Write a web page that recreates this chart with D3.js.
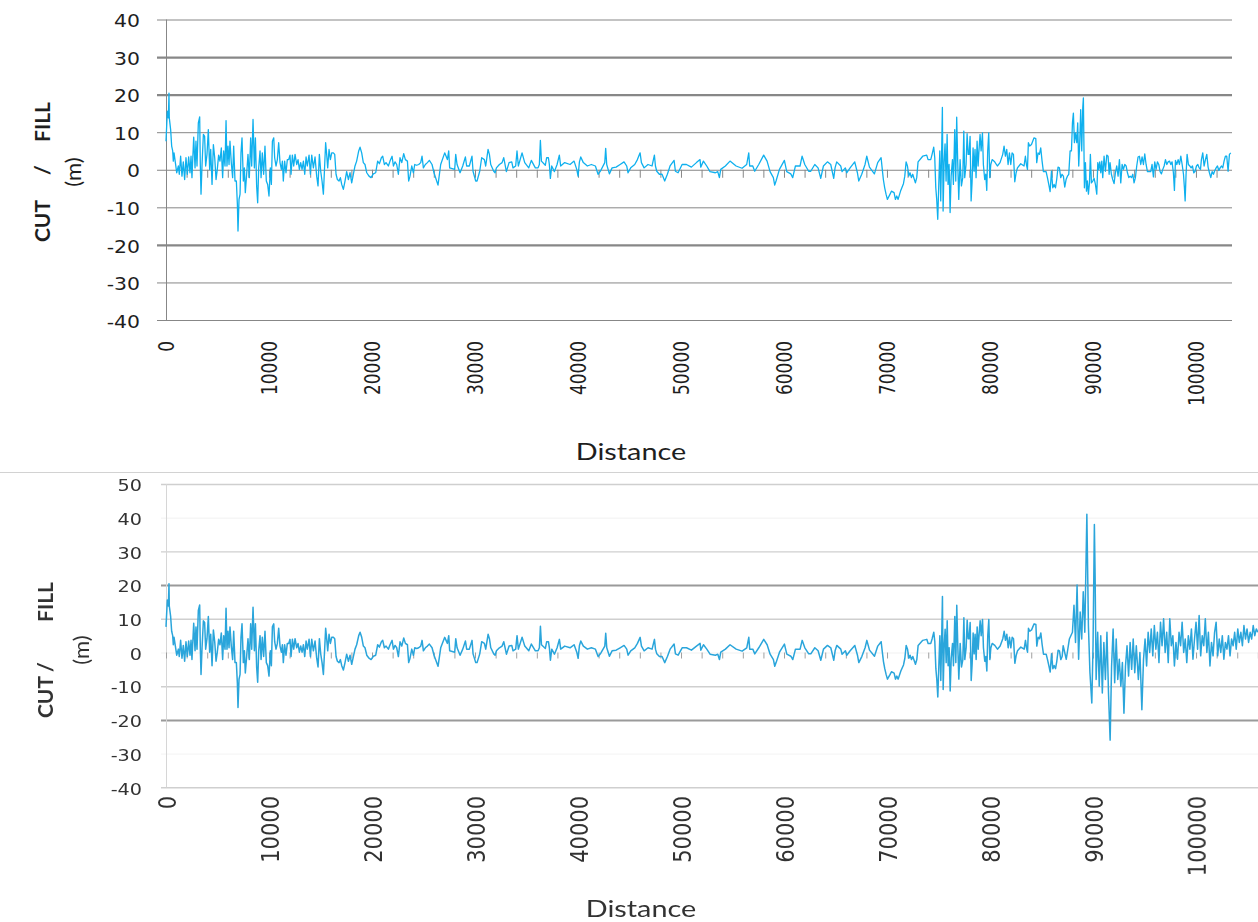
<!DOCTYPE html>
<html>
<head>
<meta charset="utf-8">
<script src="https://cdn.jsdelivr.net/npm/d3@7"></script>
<style>
  html, body { margin: 0; padding: 0; background: #fff; overflow: hidden; }
  svg { display: block; }
</style>
</head>
<body>
<svg id="chart" width="1258" height="922"></svg>
<script>
// cut/fill profile (distance in m, value in m)
const topDist = [
  0,130,230,290,320,450,550,650,710,780,
  910,1040,1200,1290,1420,1550,1680,1810,1940,2070,
  2200,2330,2430,2520,2690,2820,2910,3010,3140,3270,
  3330,3400,3500,3630,3750,3850,3980,4110,4240,4340,
  4470,4600,4730,4860,4980,5110,5240,5370,5500,5600,
  5730,5830,5920,6020,6120,6210,6340,6470,6570,6700,
  6830,6930,6990,7090,7190,7280,7380,7510,7610,7700,
  7830,7960,8090,8220,8320,8450,8580,8680,8800,8900,
  9000,9130,9230,9350,9480,9610,9740,9870,10000,10130,
  10230,10330,10460,10550,10680,10810,10940,11070,11200,11300,
  11390,11520,11650,11780,11910,12040,12140,12270,12400,12530,
  12690,12820,12950,13080,13210,13340,13470,13600,13720,13890,
  14020,14150,14310,14470,14630,14760,14890,15020,15150,15280,
  15410,15500,15600,15700,15830,15960,16090,16250,16380,16510,
  16640,16800,16930,17060,17220,17380,17540,17710,17870,18030,
  18190,18350,18510,18710,18840,19000,19160,19320,19490,19710,
  19910,20130,20360,20550,20720,20910,21040,21200,21360,21590,
  21750,21950,22080,22240,22400,22560,22720,22890,23080,23240,
  23440,23560,23690,23860,24020,24150,24340,24540,24730,24860,
  24990,25180,25380,25570,25830,
  26020,26410,26670,27060,27320,27450,27540,28030,28130,28260,
  28550,28810,29070,29190,29450,29710,29810,30070,30200,30460,
  30650,30910,31040,31270,31400,31530,31820,31950,32080,32370,
  32630,32790,33050,33310,33570,33690,33950,34080,34210,34570,
  34830,35220,35470,35860,36120,36250,36350,36450,36830,36960,
  37130,37220,37320,37450,37710,37970,38190,38320,38710,39230,
  39620,39880,40010,40140,40270,40520,40910,41300,41690,41950,
  42210,42600,42690,42790,43050,43310,43700,44090,44470,44730,
  44860,45120,45510,45770,46030,46160,46420,46800,47190,47420,
  47520,47650,47900,48160,48420,48680,48940,49330,49460,49720,
  50110,50530,51010,51500,51850,
  51920,52180,52500,52820,53340,53570,53730,53860,54310,54760,
  55350,55930,56380,56580,56670,56970,57160,57550,58030,58360,
  58650,58970,59100,59230,59560,60040,60270,60660,60850,61110,
  61560,61760,62020,62400,62600,62990,63310,63570,63830,64220,
  64540,64830,64960,65120,65510,65640,65960,66090,66420,66870,
  67130,67260,67550,67870,68040,68300,68780,69100,69430,69530,
  69650,69780,69910,70040,70300,70430,70690,70820,70950,71080,
  71340,71600,71730,71860,71990,72120,72240,72370,72500,72760,
  72890,73020,73470,73860,73990,74250,74380,74540,74640,74740,
  74830,74930,75030,75130,75220,75320,75380,75450,75550,75640,
  75740,75840,75930,76030,76130,76230,76360,76450,76580,76680,
  76770,76870,76970,77100,77230,77360,77460,77550,77680,77780,
  77880,
  77970,78070,78170,78260,78360,78460,78550,78650,78750,78850,
  78940,79040,79140,79270,79360,79490,79590,79690,79780,79880,
  79980,80080,80210,80460,80720,80980,81240,81370,81500,81630,
  81760,81890,82020,82150,82280,82410,82540,82670,82990,83310,
  83440,83540,83640,83730,83860,84030,84150,84280,84450,84540,
  84670,84800,84930,85060,85190,85450,85580,85710,85840,85970,
  86100,86230,86360,86480,86610,86740,86870,87000,87130,87260,
  87390,87520,87650,87780,87910,88010,88100,88200,88300,88430,
  88520,88620,88720,88810,88910,89010,89070,89170,89270,89370,
  89460,89560,89660,89750,89850,89980,90110,90240,90370,90470,
  90560,90660,90760,90860,90950,91080,91210,91340,91470,91570,
  91660,91790,91920,92050,92180,92310,92440,92570,92700,92830,
  92960,93090,93220,93350,93480,93610,93740,93870,93990,94120,
  94250,94380,94510,94640,94770,94900,95030,95160,95290,95610,
  95740,95870,96000,96130,96260,96390,96520,96650,96780,96910,
  97040,97170,97300,97430,97560,97680,97810,97910,98010,98140,
  98270,98400,98530,98660,98790,98880,98950,99040,99140,99270,
  99400,99530,99660,99790,99920,100050,100180,100310,100440,100530,
  100660,100790,100920,101050,101180,101310,101440,101570,101700,101830,
  101960,102090,102220,102350,102470,102600,102730,102860,102990,103120,
  103250,103380
];
const topCut = [
  7.6,15.6,13.8,20.4,13.8,10.7,6.3,5,2.3,4.5,
  1.9,-0.8,1,-1.2,3.6,-1.7,2.1,-2.6,3.2,-1.2,
  3.4,-0.8,3.6,-2.1,8.7,0.5,7.6,1,12.5,14.1,
  1.4,-6.5,1.4,9.4,8.9,1,4.1,10.7,0.1,5.4,
  -3.9,6.7,3.2,-2.6,0.1,3.9,2.3,5.8,-2.1,5,
  1,13.1,1,6.3,1.4,7.6,1.9,-2.1,6.3,-3,
  -3,-9.2,-16.3,-7.9,-6.5,4.5,8.5,-3,0.5,-6.1,
  -1.2,4.1,-2.1,8.5,1,13.4,0.5,8.5,-4.3,-8.8,
  0.5,5,-2.1,4.5,-1.2,6.3,-3,-3.9,-7,0.5,
  -3.9,7.6,8.5,3.2,1,2.7,7.2,1.9,0.1,2.3,
  -3,2.3,-0.8,2.7,2.7,3.9,-1.2,3.9,1,4.1,
  1.4,2.7,0.1,1.9,0.1,2.3,-1.2,3.4,1,3.9,
  -1.2,3.9,0.5,3.4,-1.7,-4.3,4.1,-0.4,-3,-6.5,
  1.4,7.2,4.1,0.5,5.4,2.7,4.5,4.5,4.1,-1.2,
  -2.6,-3,-2.1,-3.9,-5.2,-3,-0.5,-2.6,-0.8,-3.5,
  -1.2,1,2.3,5,6,4.5,1.9,1.4,-0.8,-1.7,
  -2.1,-1.1,-0.8,2.3,1.6,3.2,3.6,1.4,1.9,1,
  2.3,3.6,1,2.1,1.4,-1.2,3.2,1.9,4.3,2.7,
  2.3,-3,-1.7,1,-0.8,1.4,1.2,1.4,1.9,3.6,
  0.5,1.4,1.9,2.5,1.4,
  -0.8,-4.1,1.4,4.5,2.7,5,0.5,0.1,4.1,1.4,
  -0.8,1,3.4,1,1,3.6,-0.4,-3,-3,-0.4,
  3.2,2.7,1,5.4,4.1,1.4,-0.4,-0.8,0.5,1.4,
  1.9,3.2,-0.5,1.9,2.1,0.5,1,5,1,4.5,
  1.9,0.5,2.5,0.5,0.5,1.4,7.8,2.3,1.2,3.2,
  3.2,1.4,-2.3,1,-0.5,1.4,3.9,1,1.9,1.4,
  2.3,0.1,-1.7,2.1,3.4,1.9,1,1.4,1,-1.2,
  -0.2,1.9,5.7,1.4,-1.1,0.5,0.7,1.4,2.1,1,
  -0.8,0.5,1.4,2.7,4.5,1.9,0.5,1.4,1,3.9,
  1,-0.4,-1.2,-1.2,-3,-1.2,1,2.5,-0.4,-0.8,
  1.4,1.4,0.7,1.9,2.7,
  0.7,2.3,1,-0.5,-0.8,-0.5,-2.1,0.1,1,2.3,
  1,0.4,1.4,4.5,1,1,-0.4,1.4,3.9,2.3,
  -0.5,-2.1,-4.1,-3,0.1,2.5,-0.5,-1.1,-2.1,1,
  1,3.6,1.4,-0.4,-0.4,1.4,0.5,-2.3,1,2.1,
  1.4,-2.3,0.5,2.1,1,-0.5,0.5,-0.8,0.5,2.1,
  -0.8,-3,-1.2,1.4,3.6,0.7,-1.1,1.9,3.2,0.5,
  -2.6,-4.8,-6.5,-7.9,-6.5,-5.7,-6.1,-7.9,-7,-7.9,
  -5.5,-3.7,-1.7,2.1,1,-1.7,-0.8,-2.1,-1.2,-3.5,
  -2.1,2.1,3.6,3.9,2.7,2.7,4.1,6,3.2,-4.8,
  -7.9,-13.2,-3.9,5,-8.3,6.7,16.6,-11,2.1,6.9,
  -3,9.4,-3.9,1.4,-11.4,-1.7,2.7,-3.9,10.7,-3,
  14,2.1,-7.9,2.7,-4.3,-2.1,10.3,-2.1,1.4,9.6,
  4.1,
  4.1,8.9,-8.3,-3.5,5.8,-0.4,5.4,-2.1,7.6,1,
  5.4,9.4,5,9.8,1.4,-2.6,-1.2,-5.5,5,9.8,
  -2.1,1.4,2.7,2.1,1,1.9,4.1,6.3,3.6,5.4,
  1.4,4.5,1.4,4.5,4.1,-3.2,-0.8,0.5,1.6,1,
  3.6,1.4,0.1,7.2,6.3,6.7,7.6,8.5,8.3,1.9,
  4.5,4.1,5.8,2.3,-0.5,-0.5,-2.1,-3.9,-5.8,-0.4,
  -4.8,-3.9,-4.8,-2.6,0.7,0.5,-2.1,-1.2,-1.7,-4.6,
  -2.6,-1.7,-1.2,5,5,12.5,15.1,7.2,9.8,7.2,
  12.5,1,7.6,16,5,16.5,19.1,-4.8,1.9,-5.7,
  -3,-6.5,-3.5,4.1,-3.5,-3,-2.3,-3.9,-6.5,1.9,
  0.1,2.1,-0.8,2.3,-2.1,3.6,-0.4,3.9,3.6,-1.2,
  1.9,-1.2,-2.6,-3.7,-0.8,1,-1.7,2.7,-3.5,1.4,
  0.1,1.4,1,-0.8,-2.1,-1.7,-2.1,-1.2,-3.5,-2.1,
  1,3.4,3.6,1.4,3.4,1.4,4.2,1.4,-0.5,-0.5,
  1.4,-1.9,2.1,0.1,2.1,1.4,-0.5,-1.1,0.1,1,
  2.7,1.4,2.1,2.3,1.4,2.1,-0.8,-5.5,2.5,1.4,
  2.7,1.4,3.6,1.4,-1.2,-4.8,-8.3,-1.2,4.1,1.4,
  1,0.5,1,-0.8,-0.4,1,1.4,0.5,0.1,2.7,
  4.5,1,2.7,4.1,0.7,-0.8,-2.1,-0.5,-1.2,-0.2,
  0.5,1,-0.2,0.5,1,0.5,2.3,3.6,3.6,-0.4,
  4.1,4.5
];

// lower chart: same profile up to ~87 km, then its own tail
const sharedUntil = 87000;
const bottomTailDist = [
  87100,87400,87700,88000,88150,88300,88450,88600,88750,88900,
  89050,89200,89400,89550,89700,89880,90000,90130,90200,90300,
  90450,90600,90750,90900,91050,91200,91350,91500,91660,91800,
  91950,92100,92250,92400,92550,92700,92850,93000,93150,93300,
  93450,93600,93750,93900,94050,94200,94400,94550,94740,94900,
  95050,95200,95350,95500,95650,95800,95950,96100,96250,96400,
  96550,96700,96850,97000,97150,97300,97450,97600,97750,97900,
  98050,98200,98350,98500,98650,98800,98950,99100,99250,99400,
  99550,99700,99850,100000,100150,100300,100450,100600,100750,100900,
  101050,101200,101350,101500,101650,101800,101950,102100,102250,102400,
  102550,102700,102850,103000,103150,103300,103450,103600,103750,103900,
  104050,104200,104350,104500,104650,104800,104950,105100,105250,105400,
  105550,105700,105850,106000
];
const bottomTailCut = [
  2,-2,4,6,14,3,20,-2,12,4,
  18,6,41,8,-6,-15,2,38,23,-8,
  6,-10,5,-12,3,-8,6,-12,-26,-4,
  7,-9,4,-8,-2,-10,-3,-18,-4,2,
  -7,3,-5,4,-6,2,-8,0,-17,-2,
  4,-4,6,0,7,-1,8,1,6,-3,
  9,2,10,0,6,-3,10,2,5,-4,
  3,-2,6,2,9,0,4,-3,5,1,
  7,-2,4,9,1,11,-1,5,2,10,
  0,6,-4,3,-1,6,9,-1,4,0,
  5,-2,3,1,5,-1,4,2,6,1,
  7,3,6,2,8,4,7,3,6,4,
  8,5,7,6
];

const xTicks = [0, 10000, 20000, 30000, 40000, 50000, 60000, 70000, 80000, 90000, 100000];
const topYTicks = [-40, -30, -20, -10, 0, 10, 20, 30, 40];
const bottomYTicks = [-40, -30, -20, -10, 0, 10, 20, 30, 40, 50];

const bottomDist = topDist.filter(d => d <= sharedUntil).concat(bottomTailDist);
const bottomCut = topCut.filter((v, i) => topDist[i] <= sharedUntil).concat(bottomTailCut);

const plain = d => `${d}`;   // no thousands separator, plain hyphen minus

const svg = d3.select("#chart");
svg.append("defs").append("filter").attr("id", "soft")
  .append("feGaussianBlur").attr("stdDeviation", 0.5);

function drawPanel(cfg) {
  const g = svg.append("g").attr("filter", cfg.filter);
  const x = d3.scaleLinear().domain([0, cfg.xMax]).range([cfg.left, cfg.right]);
  const y = d3.scaleLinear().domain(cfg.yDomain).range([cfg.bottom, cfg.top]);

  // horizontal gridlines and value labels
  const yAxis = d3.axisLeft(y)
    .tickValues(cfg.yTicks)
    .tickFormat(plain)
    .tickSizeInner(-(cfg.gridRight - cfg.left))
    .tickSizeOuter(0)
    .tickPadding(0);
  const gy = g.append("g")
    .attr("transform", `translate(${cfg.left},0)`)
    .call(yAxis)
    .attr("font-family", "DejaVu Sans")
    .attr("font-size", cfg.yFont);
  gy.select(".domain").remove();
  gy.selectAll(".tick line")
    .attr("x1", cfg.gridLeft - cfg.left)
    .attr("stroke", d => cfg.gridColor(d))
    .attr("stroke-width", d => cfg.gridWidth(d));
  gy.selectAll(".tick text")
    .attr("x", null)
    .attr("dy", "0.36em")
    .attr("text-anchor", "end")
    .attr("fill", cfg.textColor)
    .attr("transform", `translate(${cfg.yLabelX - cfg.left},1) scale(1.2,1)`);

  // value axis line
  g.append("line")
    .attr("x1", cfg.left + 0.5).attr("x2", cfg.left + 0.5)
    .attr("y1", y(cfg.yDomain[1])).attr("y2", y(cfg.yDomain[0]))
    .attr("stroke", cfg.axisColor);

  // small ticks along the zero line
  const zeroAxis = d3.axisBottom(x)
    .tickValues(d3.range(0, cfg.xMax, 2000))
    .tickSize(cfg.zeroTick)
    .tickFormat("");
  const gz = g.append("g").attr("transform", `translate(0,${y(0)})`).call(zeroAxis);
  gz.select(".domain").remove();
  gz.selectAll(".tick line").attr("stroke", cfg.zeroTickColor);

  // distance labels, rotated
  const xAxis = d3.axisBottom(x).tickValues(xTicks).tickFormat(plain).tickSize(0).tickPadding(0);
  const gx = g.append("g")
    .attr("transform", `translate(0,${cfg.labelTop})`)
    .call(xAxis)
    .attr("font-family", "DejaVu Sans")
    .attr("font-size", cfg.xFont);
  gx.select(".domain").remove();
  gx.selectAll(".tick text")
    .attr("y", null)
    .attr("dy", "0.36em")
    .attr("text-anchor", "end")
    .attr("fill", cfg.textColor)
    .attr("transform", "scale(1.2,1) rotate(-90)");

  // the profile
  const line = d3.line().x(d => x(d[0])).y(d => y(d[1]));
  g.append("path")
    .datum(d3.zip(cfg.dist, cfg.cut))
    .attr("fill", "none")
    .attr("stroke", cfg.lineColor)
    .attr("stroke-width", cfg.lineWidth)
    .attr("stroke-linejoin", "round")
    .attr("d", line);

  // titles
  g.append("text")
    .attr("transform", `translate(${cfg.xTitle[0]},${cfg.xTitle[1]}) scale(1.2,1)`)
    .attr("text-anchor", "middle")
    .attr("font-family", "Lato")
    .attr("font-size", 24)
    .attr("fill", cfg.textColor)
    .text("Distance");

  const yTitle = [
    {t: "CUT", pos: cfg.cutPos, bold: true},
    {t: "/", pos: cfg.slashPos, bold: true},
    {t: "FILL", pos: cfg.fillPos, bold: true},
    {t: "(m)", pos: cfg.unitPos, bold: false}
  ];
  g.selectAll(".ytitle").data(yTitle).join("text")
    .attr("class", "ytitle")
    .attr("transform", d => `translate(${d.pos[0]},${d.pos[1]}) rotate(-90)`)
    .attr("dy", "0.36em")
    .attr("text-anchor", "middle")
    .attr("font-family", "Lato")
    .attr("font-weight", d => d.bold ? 700 : 400)
    .attr("font-size", d => d.bold ? 21 : 22)
    .attr("fill", cfg.textColor)
    .text(d => d.t);
}

drawPanel({
  dist: topDist, cut: topCut,
  xMax: 103500, yDomain: [-40, 40], yTicks: topYTicks,
  left: 166, right: 1232, top: 19.5, bottom: 320,
  gridLeft: 157, gridRight: 1232,
  gridColor: () => "#878787",
  gridWidth: d => [30, 20, -20].includes(d) ? 2.2 : 1,
  axisColor: "#878787",
  zeroTick: 8, zeroTickColor: "#878787",
  yFont: 17, xFont: 17, yLabelX: 140, labelTop: 341,
  textColor: "#1e1e1e",
  lineColor: "#0fb0ee", lineWidth: 1.3,
  xTitle: [631, 460],
  cutPos: [42, 221], slashPos: [42, 170], fillPos: [42, 122], unitPos: [73, 172],
  filter: null
});

// thin frame line of the lower picture
svg.append("line")
  .attr("x1", 0).attr("x2", 1258).attr("y1", 472.5).attr("y2", 472.5)
  .attr("stroke", "#d2d2d2");

drawPanel({
  dist: bottomDist, cut: bottomCut,
  xMax: 106500, yDomain: [-40, 50], yTicks: bottomYTicks,
  left: 166, right: 1263, top: 484, bottom: 787.3,
  gridLeft: 161, gridRight: 1263,
  gridColor: d => [20, -20].includes(d) ? "#9a9a9a" : ([40, 0, -30].includes(d) ? "#f6f6f6" : "#cfcfcf"),
  gridWidth: d => [20, -20].includes(d) ? 2 : 1.4,
  axisColor: "#d6d6d6",
  zeroTick: 6, zeroTickColor: "#a0a0a0",
  yFont: 16, xFont: 21, yLabelX: 142, labelTop: 796,
  textColor: "#333",
  lineColor: "#2aa5db", lineWidth: 1.5,
  xTitle: [641, 917],
  cutPos: [45, 697], slashPos: [45, 667], fillPos: [45, 602], unitPos: [81, 650],
  filter: "url(#soft)"
});
</script>
</body>
</html>
